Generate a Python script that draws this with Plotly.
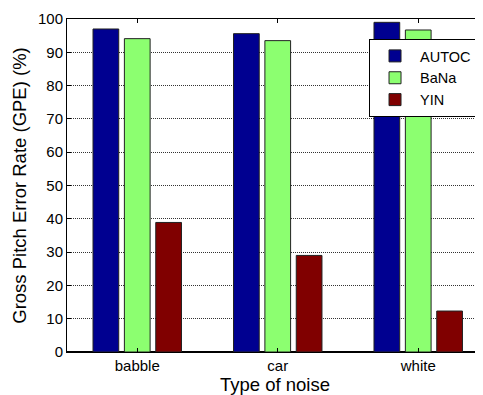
import plotly.graph_objects as go

categories = ["babble", "car", "white"]
autoc = [97.0, 95.6, 99.0]
bana = [94.1, 93.5, 96.7]
yin = [38.9, 29.0, 12.3]
y_ticks = list(range(0, 101, 10))

FONT = "Liberation Sans, Arial, sans-serif"

fig = go.Figure()
for name, vals, col in [("AUTOC", autoc, "#000090"),
                        ("BaNa", bana, "#8CFF70"),
                        ("YIN", yin, "#800000")]:
    fig.add_trace(go.Bar(
        x=[0, 1, 2], y=vals, name=name,
        marker=dict(color=col, line=dict(color="#222222", width=1)),
    ))

# page body has an 8px default margin, so the figure is 8px smaller
fig.update_layout(
    width=475, height=387,
    margin=dict(l=59, r=0, t=11, b=43),
    paper_bgcolor="white", plot_bgcolor="white",
    barmode="group", bargap=0.33, bargroupgap=0.18,
    font=dict(family=FONT, size=14, color="black"),
    showlegend=True,
    legend=dict(
        x=0.726, y=0.94, xanchor="left", yanchor="top",
        bgcolor="white", bordercolor="black", borderwidth=1,
        font=dict(family=FONT, size=14.5, color="black"),
        tracegroupgap=0, itemwidth=40,
    ),
    xaxis=dict(
        range=[-0.5, 2.461], automargin=False,
        tickmode="array", tickvals=[0, 1, 2], ticktext=categories,
        ticks="inside", ticklen=4, tickcolor="black",
        showline=True, linecolor="black", linewidth=1, mirror="ticks",
        showgrid=False, zeroline=False,
        tickfont=dict(size=15),
        title=dict(text="Type of noise", font=dict(size=18.5), standoff=2),
    ),
    yaxis=dict(
        range=[0, 100], automargin=False,
        tickmode="array", tickvals=y_ticks,
        ticks="inside", ticklen=4, tickcolor="black",
        showline=True, linecolor="black", linewidth=1, mirror=False,
        showgrid=True, gridcolor="#333333", gridwidth=1, griddash="1px,1px",
        zeroline=True, zerolinecolor="black", zerolinewidth=2,
        tickfont=dict(size=15),
        title=dict(text="Gross Pitch Error Rate (GPE) (%)", font=dict(size=18.5), standoff=6),
    ),
)

fig.write_html("out.html")
